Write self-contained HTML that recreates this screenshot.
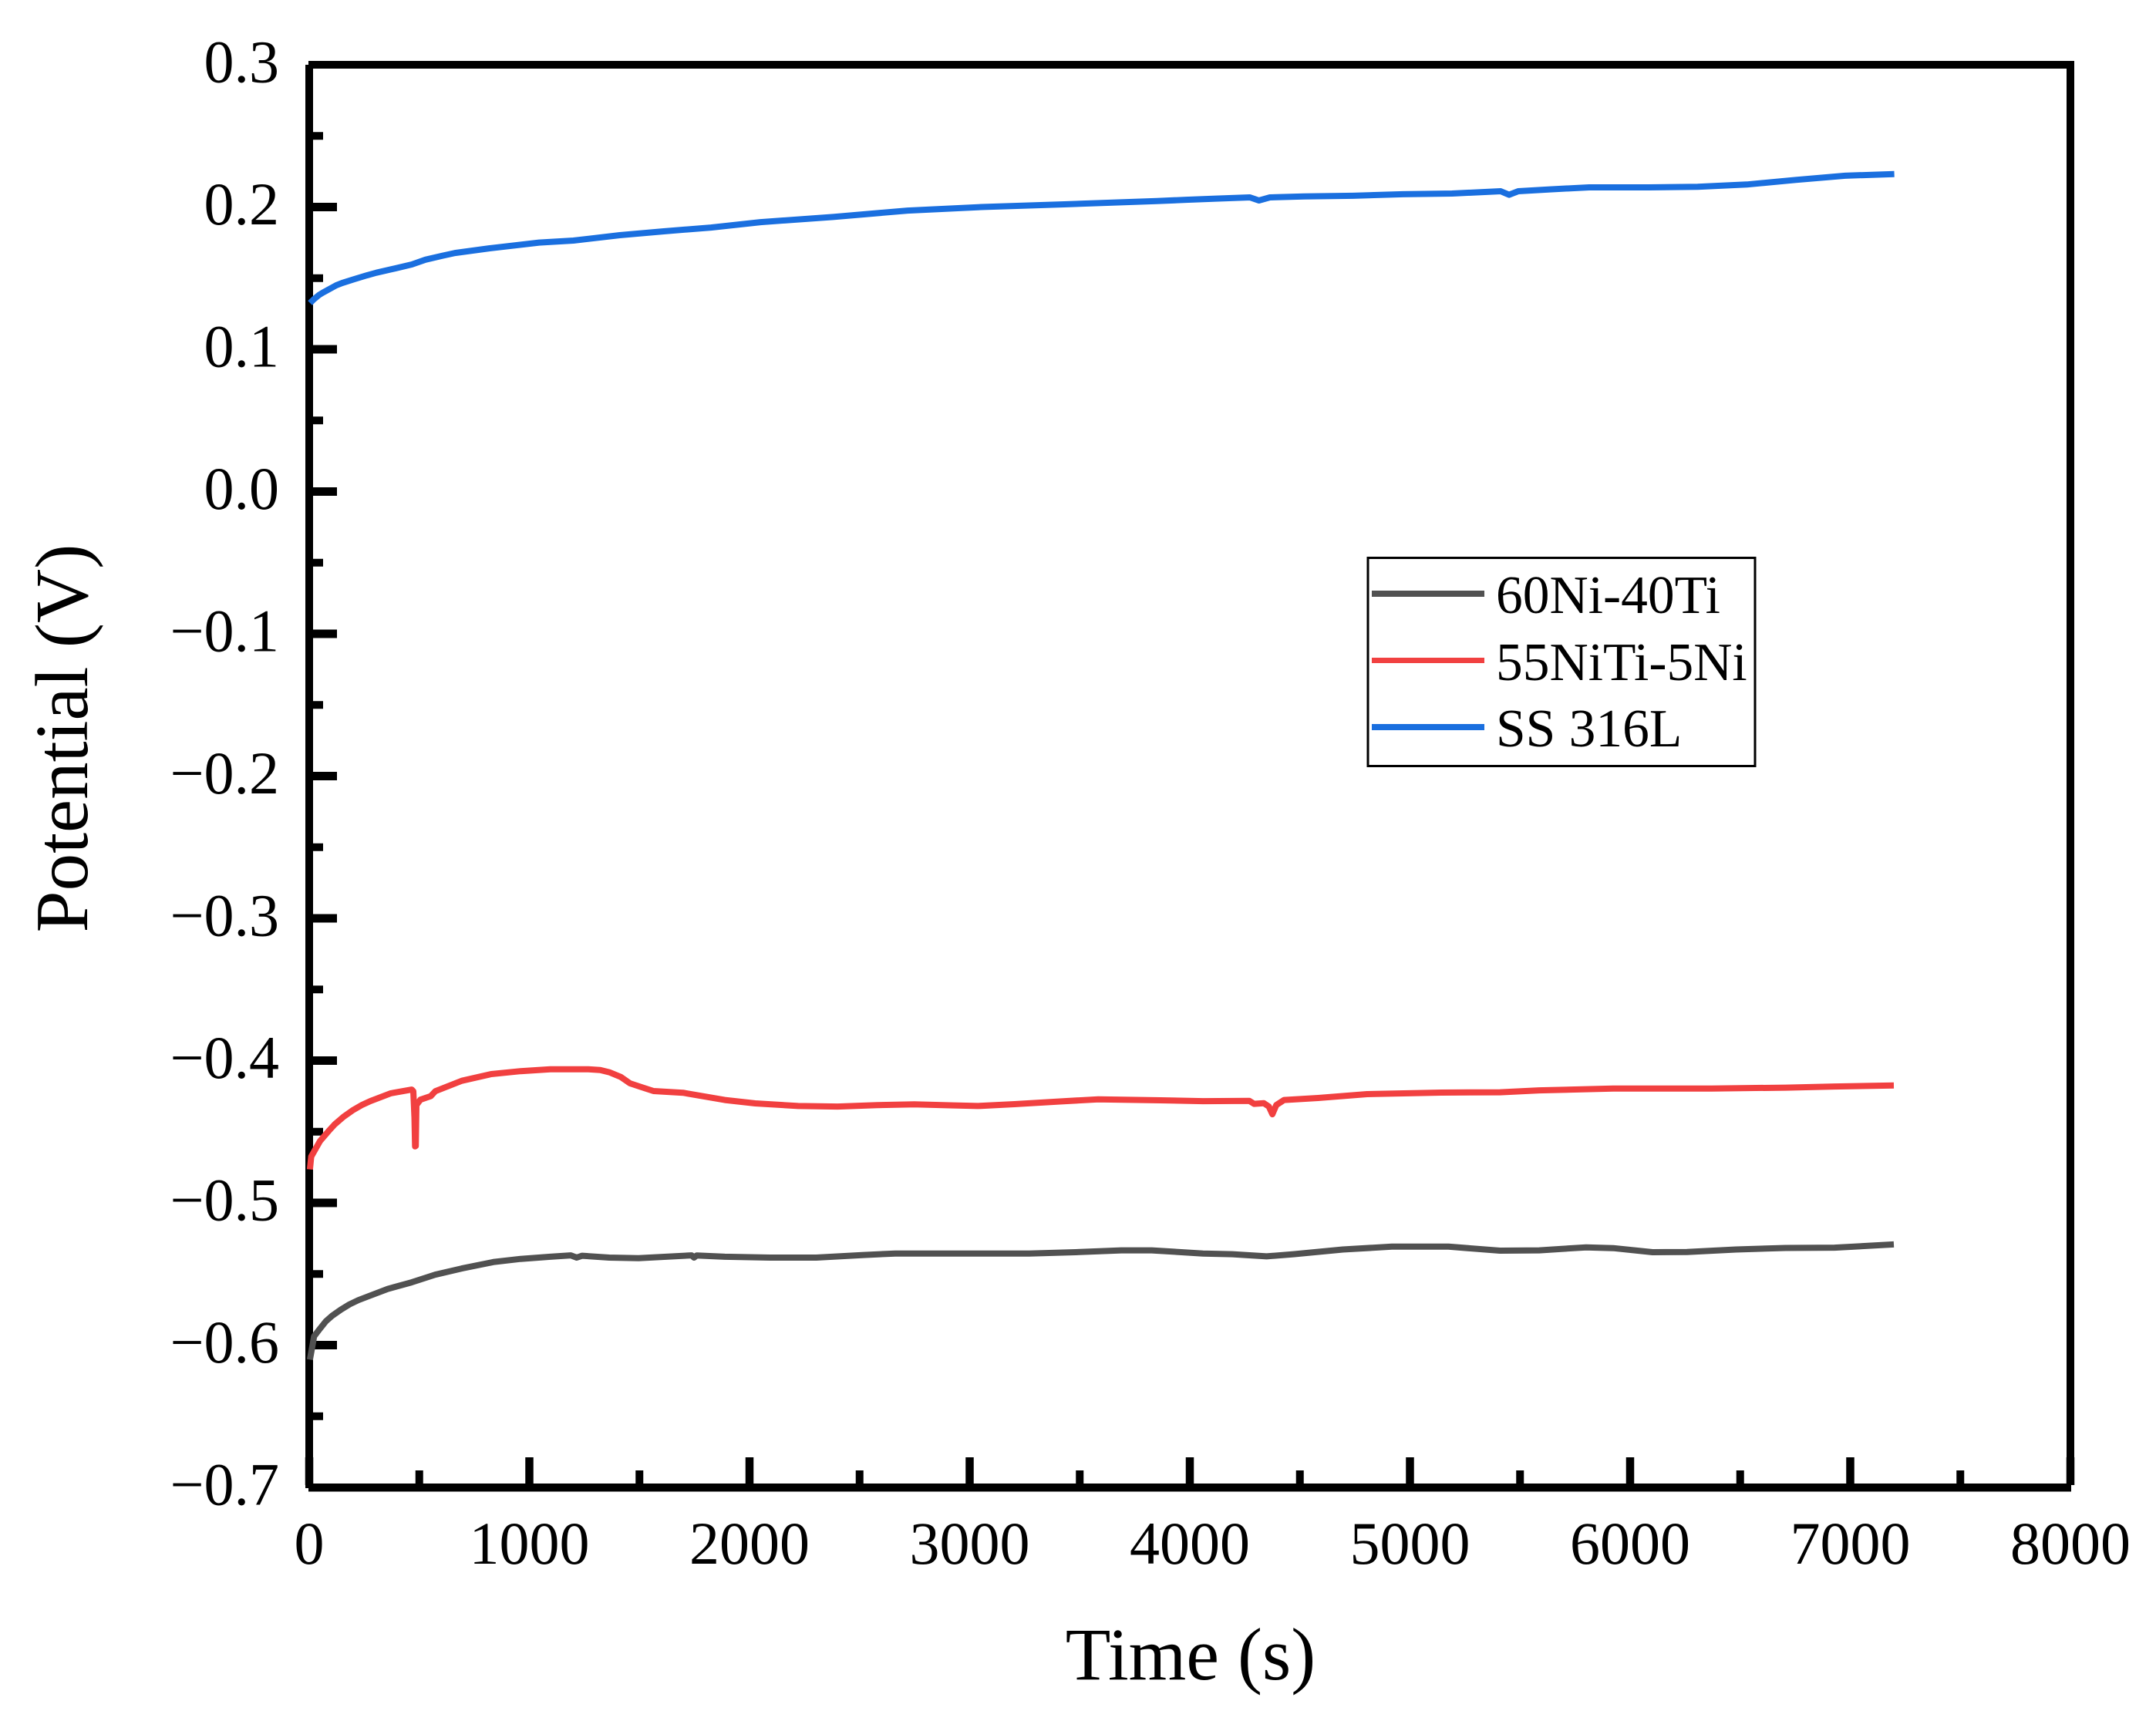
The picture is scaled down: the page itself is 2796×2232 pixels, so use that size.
<!DOCTYPE html>
<html lang="en">
<head>
<meta charset="utf-8">
<title>Open circuit potential vs time</title>
<style>
html,body{margin:0;padding:0;background:#fff;width:2796px;height:2232px;overflow:hidden}
svg{display:block}
text{font-family:"Liberation Serif","Times New Roman",serif;fill:#000}
</style>
</head>
<body>
<svg id="chart" xmlns="http://www.w3.org/2000/svg" width="2796" height="2232" viewBox="0 0 2796 2232">
  <rect x="0" y="0" width="2796" height="2232" fill="#fff"/>
  <g id="ticks"></g>
  <g id="tick-labels"></g>
  <rect x="396" y="84" width="10" height="1846" fill="#000"/>
  <rect x="2680" y="79" width="10" height="1847" fill="#000"/>
  <rect x="400" y="79" width="2290" height="10" fill="#000"/>
  <rect x="400" y="1924" width="2286" height="10.5" fill="#000"/>
  <g id="series"></g>
  <text x="1544" y="2178" font-size="96" text-anchor="middle">Time (s)</text>
  <text transform="translate(113,957.5) rotate(-90)" font-size="97" text-anchor="middle">Potential (V)</text>
  <g>
    <rect x="1774" y="723.5" width="502" height="270" fill="#fff" stroke="#000" stroke-width="3"/>
    <rect x="1779" y="766" width="146" height="8" fill="#515151"/>
    <rect x="1779" y="853" width="146" height="7" fill="#F14040"/>
    <rect x="1779" y="939" width="146" height="8" fill="#1A6FDF"/>
    <text x="1940" y="795" font-size="69.5">60Ni-40Ti</text>
    <text x="1940" y="882" font-size="69.5">55NiTi-5Ni</text>
    <text x="1940" y="968" font-size="69.5">SS 316L</text>
  </g>
</svg>
<script>
var xTickValues = [0, 1000, 2000, 3000, 4000, 5000, 6000, 7000, 8000];
var xTickLabels = ["0", "1000", "2000", "3000", "4000", "5000", "6000", "7000", "8000"];
var xMinorValues = [500, 1500, 2500, 3500, 4500, 5500, 6500, 7500];
var yTickValues = [0.3, 0.2, 0.1, 0.0, -0.1, -0.2, -0.3, -0.4, -0.5, -0.6, -0.7];
var yTickLabels = ["0.3", "0.2", "0.1", "0.0", "\u22120.1", "\u22120.2", "\u22120.3", "\u22120.4", "\u22120.5", "\u22120.6", "\u22120.7"];
var yMinorValues = [0.25, 0.15, 0.05, -0.05, -0.15, -0.25, -0.35, -0.45, -0.55, -0.65];

var grayTime = [3, 16, 22, 49, 76, 103, 143, 183, 223, 263, 357, 465, 572, 693, 840, 960, 1095, 1188, 1215, 1240, 1363, 1496, 1737, 1748, 1760, 1888, 2094, 2303, 2511, 2662, 3271, 3481, 3689, 3827, 4060, 4193, 4349, 4471, 4695, 4918, 5175, 5409, 5587, 5800, 5923, 6102, 6258, 6481, 6706, 6929, 7198];
var grayPotential = [-0.6102, -0.5992, -0.5939, -0.5884, -0.5832, -0.5795, -0.5752, -0.5714, -0.5684, -0.566, -0.5605, -0.5559, -0.5505, -0.5461, -0.5415, -0.5394, -0.5379, -0.5369, -0.5385, -0.5372, -0.5385, -0.5389, -0.5369, -0.5385, -0.537, -0.5379, -0.5385, -0.5385, -0.5367, -0.5356, -0.5356, -0.5347, -0.5334, -0.5334, -0.5356, -0.5361, -0.5376, -0.5361, -0.5328, -0.5308, -0.5308, -0.5336, -0.5334, -0.5313, -0.5318, -0.5347, -0.5345, -0.5328, -0.5317, -0.5315, -0.5292];

var redTime = [3, 9, 49, 89, 116, 156, 197, 237, 277, 371, 466, 473, 478, 481, 484, 487, 505, 552, 573, 693, 827, 960, 1095, 1268, 1322, 1363, 1415, 1457, 1510, 1564, 1698, 1888, 2026, 2221, 2400, 2580, 2748, 2927, 3038, 3204, 3411, 3584, 3867, 4060, 4270, 4292, 4336, 4359, 4375, 4393, 4428, 4583, 4805, 5142, 5409, 5587, 5923, 6371, 6706, 6929, 7198];
var redPotential = [-0.4765, -0.4675, -0.4566, -0.4494, -0.4448, -0.4395, -0.435, -0.4314, -0.4285, -0.423, -0.4204, -0.4215, -0.44, -0.4603, -0.46, -0.4313, -0.4275, -0.425, -0.4215, -0.4142, -0.4095, -0.4074, -0.4061, -0.4061, -0.4066, -0.4082, -0.4115, -0.416, -0.4187, -0.4214, -0.4226, -0.4277, -0.4301, -0.4319, -0.4323, -0.4313, -0.4308, -0.4315, -0.4319, -0.4306, -0.4287, -0.4272, -0.4279, -0.4285, -0.4283, -0.4304, -0.4299, -0.4323, -0.4377, -0.4312, -0.4277, -0.4263, -0.4236, -0.4225, -0.4223, -0.4209, -0.4197, -0.4196, -0.419, -0.4182, -0.4175];

var blueTime = [4, 20, 43, 60, 123, 150, 203, 262, 305, 395, 466, 528, 606, 662, 820, 1044, 1200, 1411, 1611, 1825, 2050, 2380, 2718, 3054, 3430, 3850, 3983, 4118, 4273, 4314, 4364, 4519, 4742, 4967, 5191, 5412, 5450, 5492, 5636, 5814, 6084, 6307, 6530, 6753, 6977, 7200];
var bluePotential = [0.1325, 0.135, 0.138, 0.1396, 0.145, 0.1466, 0.1492, 0.152, 0.1538, 0.157, 0.1596, 0.163, 0.1658, 0.1677, 0.171, 0.175, 0.1764, 0.1802, 0.1829, 0.1856, 0.1894, 0.193, 0.1975, 0.2, 0.2019, 0.2042, 0.2051, 0.2059, 0.2068, 0.2046, 0.2068, 0.2075, 0.2079, 0.209, 0.2095, 0.2111, 0.2086, 0.2111, 0.2124, 0.2138, 0.2138, 0.2142, 0.2158, 0.2191, 0.222, 0.2232];

var NS = "http://www.w3.org/2000/svg";
function xScale(t) { return 401 + t * (2685 - 401) / 8000; }
function yScale(v) { return 84 + (0.3 - v) * (1929 - 84) / 1.0; }
function pathFrom(ts, vs) {
  var d = "";
  for (var i = 0; i < ts.length; i++) {
    d += (i ? "L" : "M") + xScale(ts[i]).toFixed(1) + " " + yScale(vs[i]).toFixed(1);
  }
  return d;
}

var ticksG = document.getElementById("ticks");
var labelsG = document.getElementById("tick-labels");
var seriesG = document.getElementById("series");

xTickValues.forEach(function (t, i) {
  var tick = document.createElementNS(NS, "rect");
  
  
  tick.setAttribute("x", xScale(t) - 5.25);
  tick.setAttribute("y", 1890);
  tick.setAttribute("width", 10.5);
  tick.setAttribute("height", 36);
  ticksG.appendChild(tick);
  var lab = document.createElementNS(NS, "text");
  
  
  lab.setAttribute("x", xScale(t));
  lab.setAttribute("y", 2028);
  lab.setAttribute("font-size", 78);
  lab.setAttribute("text-anchor", "middle");
  lab.textContent = xTickLabels[i];
  labelsG.appendChild(lab);
});
xMinorValues.forEach(function (t) {
  var tick = document.createElementNS(NS, "rect");
  
  
  tick.setAttribute("x", xScale(t) - 5);
  tick.setAttribute("y", 1907);
  tick.setAttribute("width", 10);
  tick.setAttribute("height", 19);
  ticksG.appendChild(tick);
});
yTickValues.forEach(function (v, i) {
  var tick = document.createElementNS(NS, "rect");
  
  
  tick.setAttribute("x", 400);
  tick.setAttribute("y", yScale(v) - 5.5);
  tick.setAttribute("width", 37);
  tick.setAttribute("height", 11);
  if (v < 0.29 && v > -0.69) ticksG.appendChild(tick);
  var lab = document.createElementNS(NS, "text");
  
  
  lab.setAttribute("x", 362);
  lab.setAttribute("y", yScale(v) + 22.5);
  lab.setAttribute("font-size", 78);
  lab.setAttribute("text-anchor", "end");
  lab.textContent = yTickLabels[i];
  labelsG.appendChild(lab);
});
yMinorValues.forEach(function (v) {
  var tick = document.createElementNS(NS, "rect");
  
  
  tick.setAttribute("x", 400);
  tick.setAttribute("y", yScale(v) - 5);
  tick.setAttribute("width", 19);
  tick.setAttribute("height", 10);
  ticksG.appendChild(tick);
});

var grayLine = document.createElementNS(NS, "path");


grayLine.setAttribute("d", pathFrom(grayTime, grayPotential));
grayLine.setAttribute("fill", "none");
grayLine.setAttribute("stroke", "#515151");
grayLine.setAttribute("stroke-width", 8);
grayLine.setAttribute("stroke-linejoin", "round");
seriesG.appendChild(grayLine);

var redLine = document.createElementNS(NS, "path");


redLine.setAttribute("d", pathFrom(redTime, redPotential));
redLine.setAttribute("fill", "none");
redLine.setAttribute("stroke", "#F14040");
redLine.setAttribute("stroke-width", 8);
redLine.setAttribute("stroke-linejoin", "round");
seriesG.appendChild(redLine);

var blueLine = document.createElementNS(NS, "path");


blueLine.setAttribute("d", pathFrom(blueTime, bluePotential));
blueLine.setAttribute("fill", "none");
blueLine.setAttribute("stroke", "#1A6FDF");
blueLine.setAttribute("stroke-width", 8);
blueLine.setAttribute("stroke-linejoin", "round");
seriesG.appendChild(blueLine);
</script>
</body>
</html>
